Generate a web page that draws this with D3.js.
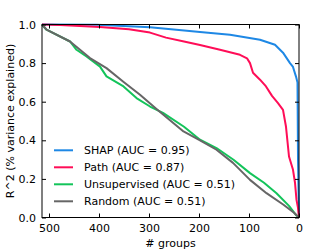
<!DOCTYPE html>
<html><head><meta charset="utf-8">
<script src="https://cdn.jsdelivr.net/npm/d3@7"></script>
<style>body{margin:0;background:#fff}svg{display:block}text{font-family:"DejaVu Sans",sans-serif}</style>
</head><body>
<script>
const groupsShap = [514, 404, 298, 198, 138, 78, 48, 32, 18, 12, 6, 3, 2, 0];
const valuesShap = [1.0, 0.999, 0.986, 0.961, 0.947, 0.921, 0.895, 0.854, 0.80, 0.78, 0.73, 0.70, 0.30, 0.0];
const groupsPath = [514, 478, 398, 340, 298, 266, 230, 198, 158, 118, 104, 98, 92, 78, 66, 54, 42, 32, 26, 20, 12, 8, 5, 2, 0];
const valuesPath = [1.0, 0.998, 0.987, 0.975, 0.958, 0.932, 0.912, 0.894, 0.869, 0.843, 0.825, 0.800, 0.750, 0.714, 0.679, 0.630, 0.593, 0.558, 0.470, 0.316, 0.247, 0.180, 0.091, 0.05, 0.0];
const groupsUnsup = [514, 506, 458, 445, 425, 398, 385, 351, 325, 298, 272, 230, 198, 165, 131, 98, 70, 45, 20, 5, 0];
const valuesUnsup = [1.0, 0.975, 0.912, 0.869, 0.834, 0.782, 0.731, 0.679, 0.619, 0.575, 0.542, 0.470, 0.403, 0.360, 0.299, 0.230, 0.180, 0.126, 0.060, 0.010, 0.0];
const groupsRand = [514, 505, 458, 418, 385, 352, 318, 285, 231, 198, 165, 132, 98, 65, 31, 10, 0];
const valuesRand = [1.0, 0.974, 0.912, 0.826, 0.774, 0.705, 0.636, 0.562, 0.446, 0.400, 0.351, 0.283, 0.195, 0.126, 0.066, 0.025, 0.0];
const seriesNames = ["SHAP (AUC = 0.95)", "Path (AUC = 0.87)", "Unsupervised (AUC = 0.51)", "Random (AUC = 0.51)"];
const seriesColors = ["#1E88E5", "#FF0D57", "#13C45A", "#666666"];
const xTicks = [500, 400, 300, 200, 100, 0];
const yTicks = [0.0, 0.2, 0.4, 0.6, 0.8, 1.0];

const W = 332, H = 251;
const m = {l: 42, r: 33, t: 24.5, b: 33.5};
const svg = d3.select("body").append("svg").attr("width", W).attr("height", H);
const x = d3.scaleLinear().domain([514, 0]).range([m.l, W - m.r]);
const y = d3.scaleLinear().domain([0, 1]).range([H - m.b, m.t]);

const series = [
  [groupsShap, valuesShap], [groupsPath, valuesPath],
  [groupsUnsup, valuesUnsup], [groupsRand, valuesRand]
];
const line = d3.line().x(d => x(d[0])).y(d => y(d[1]));
const g = svg.append("g");
series.forEach((s, i) => {
  const pts = s[0].map((gv, k) => [gv, s[1][k]]);
  g.append("path").datum(pts).attr("d", line)
    .attr("fill", "none").attr("stroke", seriesColors[i]).attr("stroke-width", 2)
    .attr("stroke-linejoin", "round");
});

svg.append("rect").attr("x", m.l).attr("y", m.t).attr("width", W - m.r - m.l).attr("height", H - m.b - m.t)
  .attr("fill", "none").attr("stroke", "#000").attr("stroke-width", 1);

const fs = 11;
const xb = svg.append("g").attr("transform", `translate(0,${H - m.b})`)
  .call(d3.axisBottom(x).tickValues(xTicks).tickSizeInner(-4).tickSizeOuter(0).tickPadding(7));
const xt = svg.append("g").attr("transform", `translate(0,${m.t})`)
  .call(d3.axisTop(x).tickValues(xTicks).tickSizeInner(-4).tickSizeOuter(0).tickFormat(""));
const yl = svg.append("g").attr("transform", `translate(${m.l},0)`)
  .call(d3.axisLeft(y).tickValues(yTicks).tickSizeInner(-4).tickSizeOuter(0).tickPadding(6).tickFormat(d3.format(".1f")));
const yr = svg.append("g").attr("transform", `translate(${W - m.r},0)`)
  .call(d3.axisRight(y).tickValues(yTicks).tickSizeInner(-4).tickSizeOuter(0).tickFormat(""));
[xb, xt, yl, yr].forEach(a => {
  a.select(".domain").remove();
  a.selectAll("line").attr("stroke", "#000");
  a.selectAll("text").attr("font-size", fs).attr("fill", "#000").attr("font-family", "DejaVu Sans");
});

svg.append("text").attr("x", (m.l + W - m.r) / 2).attr("y", H - 4).attr("text-anchor", "middle")
  .attr("font-size", fs).text("# groups");
svg.append("text").attr("transform", `translate(14,${(m.t + H - m.b) / 2}) rotate(-90)`)
  .attr("text-anchor", "middle").attr("font-size", fs).text("R^2 (% variance explained)");

const lg = svg.append("g");
seriesNames.forEach((n, i) => {
  const yy = 150.3 + i * 17;
  lg.append("line").attr("x1", 54).attr("x2", 73).attr("y1", yy).attr("y2", yy)
    .attr("stroke", seriesColors[i]).attr("stroke-width", 2);
  lg.append("text").attr("x", 84).attr("y", yy + 4).attr("font-size", fs).text(n);
});
</script>
</body></html>
